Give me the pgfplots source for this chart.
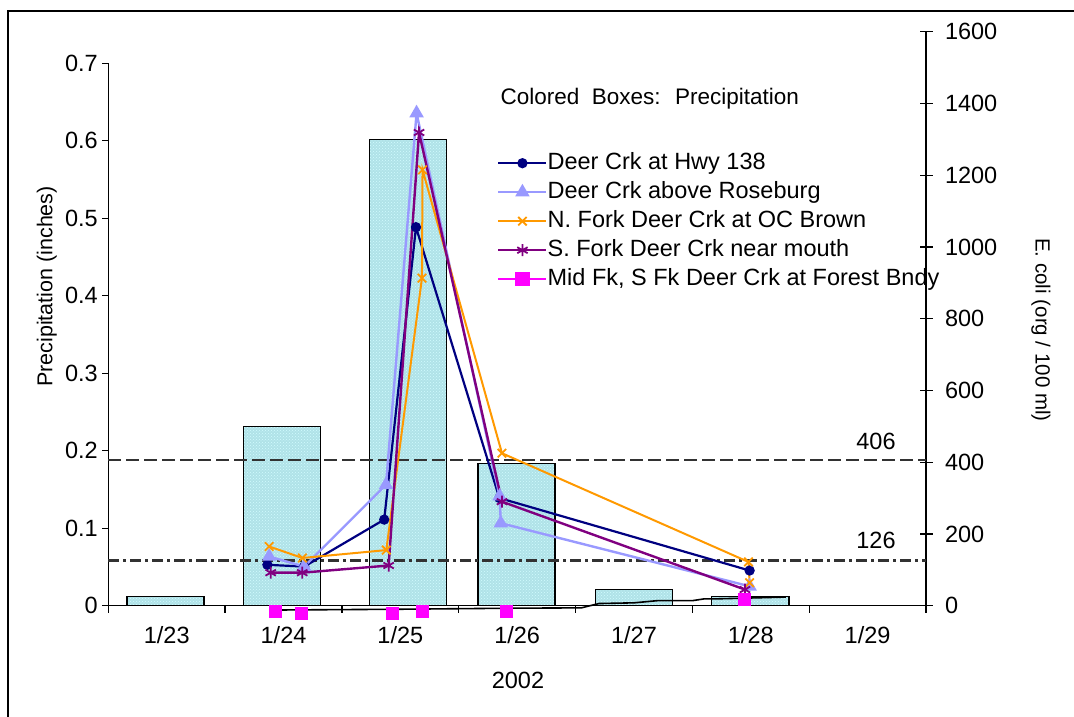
\documentclass[border=0pt]{standalone}
\usepackage{fontspec}
\setmainfont{Liberation Sans}
\usepackage{pgfplots}
\pgfplotsset{compat=1.18}
\usetikzlibrary{patterns}
\definecolor{barcol}{RGB}{176,226,232}
\definecolor{barspot}{RGB}{210,252,255}
\definecolor{navyc}{RGB}{0,0,128}
\definecolor{lilac}{RGB}{153,153,255}
\definecolor{orangec}{RGB}{255,153,0}
\definecolor{purplec}{RGB}{128,0,128}
\definecolor{magc}{RGB}{255,0,255}
\definecolor{refline}{RGB}{50,50,50}
\begin{document}
\begin{tikzpicture}[x=1pt,y=1pt]
\path[use as bounding box] (0pt,0pt) rectangle (1074pt,717pt);
\draw[line width=1.3pt] (8pt,0pt) -- (8pt,706pt) -- (1074pt,706pt);
% ---------- left axis: precipitation bars ----------
\begin{axis}[
  at={(108.3pt,111.3pt)}, anchor=south west,
  scale only axis, width=817.7pt, height=542.4pt,
  xmin=0, xmax=7, ymin=0, ymax=0.7,
  axis x line*=bottom, axis y line*=left,
  axis line style={line width=1.3pt, -},
  every tick/.style={line width=1.3pt, black},
  tick align=outside,
  major tick length=6pt, minor tick length=7pt,
  xtick={0.5,1.5,2.5,3.5,4.5,5.5,6.5},
  xticklabels={1/23,1/24,1/25,1/26,1/27,1/28,1/29},
  major x tick style={draw=none},
  minor xtick={0,1,2,3,4,5,6,7},
  ytick={0,0.1,0.2,0.3,0.4,0.5,0.6,0.7},
  yticklabels={0,0.1,0.2,0.3,0.4,0.5,0.6,0.7},
  /pgf/number format/assume math mode=true,
  tick label style={font=\fontsize{23.5}{27}\selectfont},
  xticklabel style={yshift=-11pt},
  yticklabel style={xshift=-1pt},
  clip=false,
]
\addplot[ybar, bar width=0.66, fill=barcol, draw=black, line width=1.2pt,
  postaction={pattern=crosshatch dots, pattern color=barspot}]
  coordinates {(0.49,0.0116) (1.488,0.231) (2.568,0.602) (3.494,0.184) (4.502,0.0212) (5.497,0.0116)};
\end{axis}
% ---------- right axis: E. coli ----------
\begin{axis}[
  at={(108.3pt,111.3pt)}, anchor=south west,
  scale only axis, width=817.7pt, height=574pt,
  xmin=0, xmax=7, ymin=0, ymax=1600,
  axis x line=none, axis y line*=right,
  axis line style={line width=1.3pt, -},
  every tick/.style={line width=1.3pt, black},
  tick align=center, major tick length=13pt,
  ytick={0,200,400,600,800,1000,1200,1400,1600},
  /pgf/number format/assume math mode=true,
  /pgf/number format/1000 sep={},
  tick label style={font=\fontsize{23.5}{27}\selectfont},
  yticklabel style={xshift=9pt},
  clip=false,
  legend style={at={(0.4754,0.7904)}, anchor=north west, draw=none, fill=none,
    inner sep=0pt, row sep=7pt,
    font=\fontsize{23.5}{27}\selectfont,
    nodes={inner sep=0pt, text height=17pt, text depth=5pt},
    /tikz/every even column/.append style={column sep=5pt}},
  legend cell align=left,
  legend image code/.code={\draw[mark repeat=2,mark phase=2,#1] plot coordinates {(0pt,0pt) (24pt,0pt) (48pt,0pt)};},
]
\addplot[refline, line width=2.6pt, dash pattern=on 13pt off 5pt, forget plot] coordinates {(0,406) (7,406)};
\addplot[refline, line width=2.6pt, dash pattern=on 11pt off 4pt on 3pt off 4pt, forget plot] coordinates {(0,126) (7,126)};
\addplot[black, line width=1.6pt, forget plot] coordinates {(1.46,-12) (2.45,-10) (3.45,-7) (4.05,-6) (4.2,6) (4.5,8) (4.7,14) (5.0,14) (5.1,19) (5.2,19) (5.8,24)};
\addplot[navyc, line width=2.2pt, mark=*, mark size=4pt, mark options={solid,fill=navyc}]
  coordinates {(1.362,114) (1.677,109) (2.362,240) (2.634,1055) (3.348,300) (5.49,98)};
\addlegendentry{Deer Crk at Hwy 138}
\addplot[lilac, line width=2.4pt, mark=triangle*, mark size=6pt, mark options={solid,fill=lilac}]
  coordinates {(1.377,137) (1.677,109) (2.377,337) (2.639,1373) (3.35,305) (3.36,230) (5.49,54)};
\addlegendentry{Deer Crk above Roseburg}
\addplot[orangec, line width=2pt, mark=x, mark size=6pt, mark options={solid, line width=1.8pt}]
  coordinates {(1.377,165) (1.662,133) (2.38,155) (2.685,913) (2.69,1215) (3.37,425) (5.48,122) (5.49,64)};
\addlegendentry{N. Fork Deer Crk at OC Brown}
\addplot[purplec, line width=2.4pt, mark=asterisk, mark size=6pt, mark options={solid, line width=1.8pt}]
  coordinates {(1.39,92) (1.66,92) (2.40,112) (2.66,1319) (3.37,290) (5.45,45)};
\addlegendentry{S. Fork Deer Crk near mouth}
\addplot[magc, only marks, mark=square*, mark size=6pt, mark options={fill=magc}, forget plot]
  coordinates {(1.428,-16) (1.654,-20) (2.428,-20) (2.69,-14) (3.41,-14) (5.447,19)};
\addlegendimage{magc, line width=2.4pt, mark=square*, mark size=6pt, mark options={fill=magc}}
\addlegendentry{Mid Fk, S Fk Deer Crk at Forest Bndy}
\end{axis}
% ---------- texts ----------
\node[anchor=west, font=\fontsize{22.5}{26}\selectfont] at (497pt,618pt) {Colored~ Boxes:~ Precipitation};
\node[font=\fontsize{23.5}{27}\selectfont] at (876pt,276pt) {406};
\node[font=\fontsize{23.5}{27}\selectfont] at (876pt,177pt) {126};
\node[rotate=90, font=\fontsize{21.5}{26}\selectfont] at (46.7pt,430.5pt) {Precipitation (inches)};
\node[rotate=-90, font=\fontsize{20.5}{26}\selectfont] at (1041pt,387pt) {E. coli (org / 100 ml)};
\node[font=\fontsize{23.5}{27}\selectfont] at (518pt,37pt) {2002};
\end{tikzpicture}
\end{document}
